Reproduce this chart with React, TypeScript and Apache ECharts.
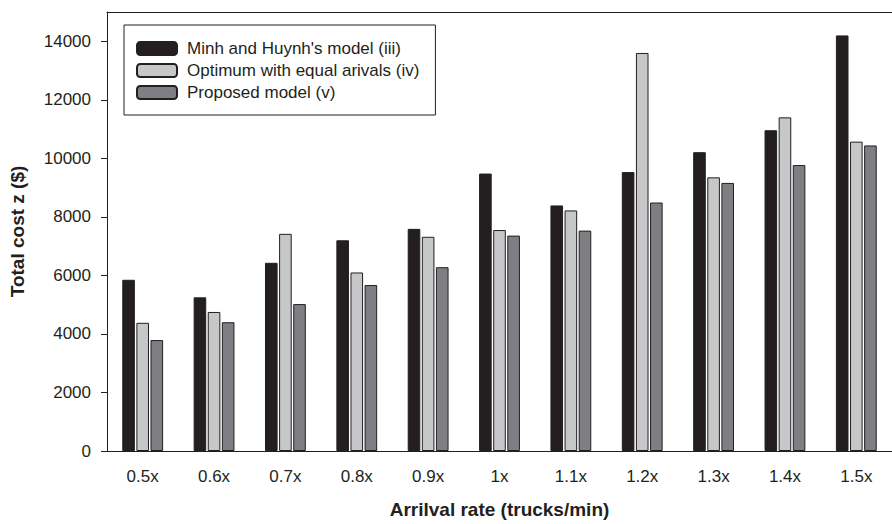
import React, { useEffect, useRef } from "react";
import * as echarts from "echarts";

const categories = ["0.5x", "0.6x", "0.7x", "0.8x", "0.9x", "1x", "1.1x", "1.2x", "1.3x", "1.4x", "1.5x"];
const minhHuynh = [5850, 5250, 6430, 7200, 7590, 9480, 8390, 9530, 10210, 10960, 14200];
const equalArrivals = [4380, 4750, 7420, 6100, 7320, 7550, 8220, 13600, 9350, 11400, 10570];
const proposed = [3790, 4400, 5020, 5670, 6280, 7360, 7530, 8490, 9160, 9770, 10440];
const yTicks = [0, 2000, 4000, 6000, 8000, 10000, 12000, 14000];
const seriesNames = ["Minh and Huynh's model (iii)", "Optimum with equal arivals (iv)", "Proposed model (v)"];

const FONT = "Liberation Sans, Arial, Helvetica, sans-serif";
const INK = "#231f20";

export default function App() {
  const ref = useRef<HTMLDivElement>(null);
  useEffect(() => {
    if (!ref.current) return;
    const chart = echarts.init(ref.current, undefined, { renderer: "svg" });
    const barStyle = (color: string) => ({ color, borderColor: INK, borderWidth: 1 });
    chart.setOption({
      animation: false,
      backgroundColor: "#ffffff",
      textStyle: { fontFamily: FONT, color: INK },
      grid: { left: 107, top: 12, width: 796, height: 441, containLabel: false },
      legend: {
        orient: "vertical",
        left: 124,
        top: 25,
        padding: [15, 16, 14, 12],
        borderColor: INK,
        borderWidth: 1,
        itemWidth: 40,
        itemHeight: 13,
        itemGap: 5,
        selectedMode: false,
        textStyle: { fontFamily: FONT, fontSize: 17, lineHeight: 17, color: INK, padding: [0, 0, 0, 5] },
        data: seriesNames,
      },
      xAxis: [
        {
          type: "category",
          data: categories,
          position: "bottom",
          axisLine: { lineStyle: { color: INK, width: 1 } },
          axisTick: { alignWithLabel: true, length: 6, lineStyle: { color: INK } },
          axisLabel: { fontFamily: FONT, fontSize: 17, color: INK, margin: 17 },
          name: "Arrilval rate (trucks/min)",
          nameLocation: "middle",
          nameGap: 49,
          nameTextStyle: { fontFamily: FONT, fontSize: 19, fontWeight: "bold", color: INK },
        },
        {
          type: "category",
          data: categories,
          position: "top",
          axisLine: { show: true, lineStyle: { color: INK, width: 1 } },
          axisTick: { show: false },
          axisLabel: { show: false },
        },
      ],
      yAxis: {
        type: "value",
        min: 0,
        max: 15000,
        axisLine: { show: true, lineStyle: { color: INK, width: 1 } },
        axisTick: { show: true, length: 6, customValues: yTicks, lineStyle: { color: INK } },
        axisLabel: {
          fontFamily: FONT,
          fontSize: 17,
          color: INK,
          margin: 16,
          customValues: yTicks,
          formatter: (v: number) => String(v),
        },
        splitLine: { show: false },
        name: "Total cost z ($)",
        nameLocation: "middle",
        nameRotate: 90,
        nameGap: 80,
        nameTextStyle: { fontFamily: FONT, fontSize: 19, fontWeight: "bold", color: INK },
      },
      series: [
        { name: seriesNames[0], type: "bar", data: minhHuynh, barWidth: 12.6, barGap: "12%", itemStyle: barStyle("#231f20") },
        { name: seriesNames[1], type: "bar", data: equalArrivals, barWidth: 12.6, barGap: "12%", itemStyle: barStyle("#c6c7c9") },
        { name: seriesNames[2], type: "bar", data: proposed, barWidth: 12.6, barGap: "12%", itemStyle: barStyle("#7e7f83") },
      ],
    });
    return () => chart.dispose();
  }, []);
  return <div ref={ref} style={{ position: "fixed", left: 0, top: 0, width: 892, height: 524 }} />;
}
